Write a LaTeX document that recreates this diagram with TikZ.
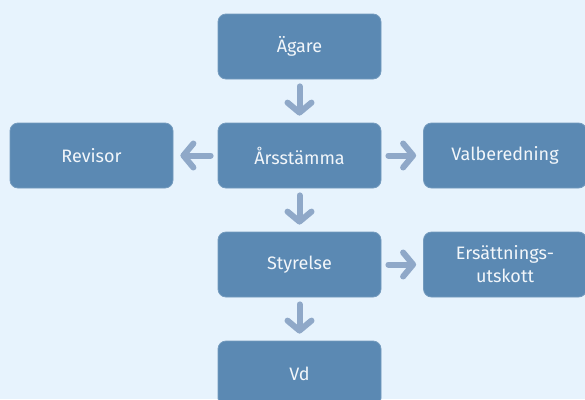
\documentclass[tikz,border=0pt]{standalone}
\usepackage{fontspec}
\setmainfont{Fira Sans}
\usetikzlibrary{arrows.meta, positioning}
\definecolor{boxblue}{RGB}{91, 137, 179}
\definecolor{arrowgray}{RGB}{143, 168, 200}
\definecolor{bgblue}{RGB}{231, 243, 253}
\definecolor{textwhite}{RGB}{242, 246, 250}

\begin{document}
\begin{tikzpicture}[
    x=1pt, y=-1pt,
    box/.style={rectangle, rounded corners=8pt, fill=boxblue, draw=boxblue!85!white, line width=0.8pt,
        minimum width=163pt, minimum height=65pt, text=textwhite, font=\fontsize{18}{23}\selectfont, align=center},
    conn/.style={line width=6pt, line cap=round, color=arrowgray, shorten <=7pt, shorten >=7pt,
        -{Straight Barb[length=10pt, width=24pt, line cap=round, line join=round]}}
]
\fill[bgblue] (0,0) rectangle (585,399);
\useasboundingbox (0,0) rectangle (585,399);
\clip (0,0) rectangle (585,399);

\node[box] (agare) at (299.5,46.5) {Ägare};
\node[box] (arsstamma) at (299.5,155.5) {Årsstämma};
\node[box] (revisor) at (91.5,155.5) {Revisor};
\node[box] (valberedning) at (505,155.5) {Valberedning};
\node[box] (styrelse) at (299.5,264.5) {Styrelse};
\node[box] (ersattning) at (505,264.5) {Ersättnings-\\utskott};
\node[box] (vd) at (299.5,373.5) {Vd};

\draw[conn] (agare) -- (arsstamma);
\draw[conn] (arsstamma) -- (revisor);
\draw[conn] (arsstamma) -- (valberedning);
\draw[conn] (arsstamma) -- (styrelse);
\draw[conn] (styrelse) -- (ersattning);
\draw[conn] (styrelse) -- (vd);
\end{tikzpicture}
\end{document}
